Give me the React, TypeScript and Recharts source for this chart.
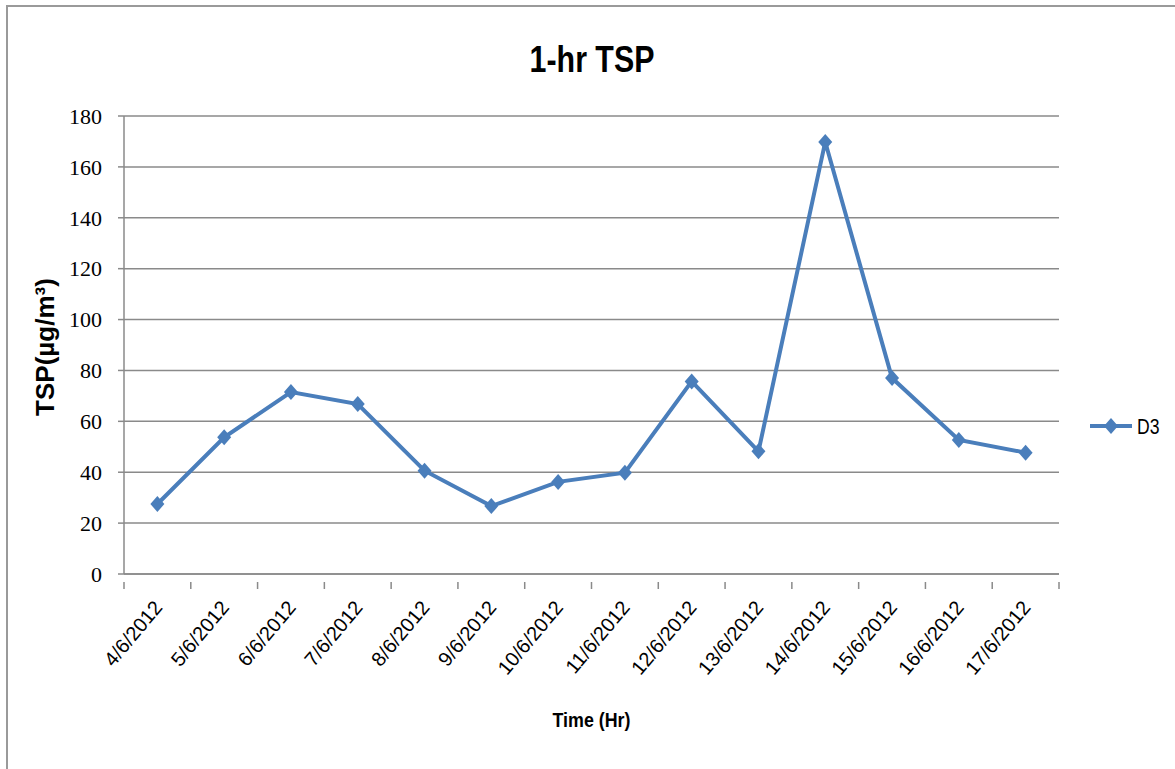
import React from 'react';
import { LineChart, Line, XAxis, YAxis, CartesianGrid, Legend } from 'recharts';

const dates = [
  '4/6/2012', '5/6/2012', '6/6/2012', '7/6/2012', '8/6/2012', '9/6/2012', '10/6/2012',
  '11/6/2012', '12/6/2012', '13/6/2012', '14/6/2012', '15/6/2012', '16/6/2012', '17/6/2012',
];
const d3Values = [27.5, 53.7, 71.5, 66.8, 40.6, 26.7, 36.2, 39.8, 75.7, 48.2, 169.8, 77.0, 52.7, 47.7];
const yTicks = [0, 20, 40, 60, 80, 100, 120, 140, 160, 180];
const seriesName = 'D3';

const data = dates.map((d, i) => ({ date: d, D3: d3Values[i] }));

const BLUE = '#4a7ebb';
const GRID = '#8a8a8a';
const SANS = "'Liberation Sans', Arial, sans-serif";

// diamond marker like the excel one
const Diamond = (props: any) => {
  const { cx, cy } = props;
  if (cx == null || cy == null) return null;
  return <polygon points={`${cx},${cy - 8} ${cx + 7},${cy} ${cx},${cy + 8} ${cx - 7},${cy}`} fill={BLUE} />;
};

// category label + boundary tick marks (excel puts ticks between categories)
const DateTick = (props: any) => {
  const { x, y, payload, index, visibleTicksCount } = props;
  const half = payload && payload.offset ? payload.offset : 33.4;
  const last = index === visibleTicksCount - 1;
  const ax = x + 6;
  const ay = y + 26;
  return (
    <g>
      <line x1={x - half} y1={y} x2={x - half} y2={y + 7} stroke={GRID} strokeWidth={1.5} />
      {last && <line x1={x + half} y1={y} x2={x + half} y2={y + 7} stroke={GRID} strokeWidth={1.5} />}
      <text
        x={ax}
        y={ay}
        textAnchor="end"
        transform={`rotate(-50, ${ax}, ${ay})`}
        fontFamily={SANS}
        fontSize={20}
        fill="#000"
      >
        {payload.value}
      </text>
    </g>
  );
};

const LegendContent = () => (
  <svg width={90} height={32}>
    <line x1={4} y1={15} x2={46} y2={15} stroke={BLUE} strokeWidth={4} />
    <polygon points="25,7 32,15 25,23 18,15" fill={BLUE} />
    <text x={51} y={23} fontFamily={SANS} fontSize={22} fill="#000" transform="translate(51,0) scale(0.8,1) translate(-51,0)">{seriesName}</text>
  </svg>
);

export default function App() {
  return (
    <div style={{ position: 'absolute', left: 0, top: 0, width: 1175, height: 769, background: '#fff' }}>
      <div
        style={{
          position: 'absolute', left: 6, top: 5, width: 1169, height: 764,
          borderLeft: '2px solid #9a9a9a', borderTop: '2px solid #9a9a9a',
        }}
      />
      <div
        style={{
          position: 'absolute', left: 392, top: 41, width: 400, textAlign: 'center',
          fontFamily: SANS, fontWeight: 'bold', fontSize: 37, lineHeight: '37px', color: '#000',
          transform: 'scaleX(0.82)', transformOrigin: '200px 0',
        }}
      >
        1-hr TSP
      </div>
      <div style={{ position: 'absolute', left: 0, top: 0 }}>
        <LineChart width={1175} height={769} data={data} margin={{ top: 116, right: 116, left: 0, bottom: 0 }}>
          <CartesianGrid horizontal vertical={false} stroke={GRID} strokeWidth={1.5} />
          <XAxis
            dataKey="date"
            scale="band"
            height={195}
            interval={0}
            axisLine={{ stroke: GRID, strokeWidth: 1.5 }}
            tickLine={false}
            tick={<DateTick />}
            label={{
              content: (p: any) => {
                const vb = p.viewBox;
                const cx = vb.x + vb.width / 2;
                const cy = vb.y + 153;
                return (
                  <text x={cx} y={cy} textAnchor="middle" fontFamily={SANS} fontWeight="bold" fontSize={21} fill="#000" transform={`translate(${cx},0) scale(0.85,1) translate(${-cx},0)`}>
                    Time (Hr)
                  </text>
                );
              },
            }}
          />
          <YAxis
            width={124}
            domain={[0, 180]}
            ticks={yTicks}
            interval={0}
            axisLine={{ stroke: GRID, strokeWidth: 1.5 }}
            tickLine={{ stroke: GRID, strokeWidth: 1.5 }}
            tickSize={6}
            tickMargin={16}
            tick={{ fontFamily: "'Liberation Serif', serif", fontSize: 22, fill: '#000' }}
            label={{
              content: (p: any) => {
                const vb = p.viewBox;
                const cx = vb.x + 54;
                const cy = vb.y + vb.height / 2 + 2;
                return (
                  <text x={cx} y={cy} textAnchor="middle" transform={`rotate(-90, ${cx}, ${cy})`} fontFamily={SANS} fontWeight="bold" fontSize={26} fill="#000">
                    TSP(µg/m³)
                  </text>
                );
              },
            }}
          />
          <Legend
            layout="vertical"
            align="center"
            verticalAlign="middle"
            content={<LegendContent />}
            wrapperStyle={{ left: 1086, top: 411, width: 90 }}
          />
          <Line
            type="linear"
            dataKey="D3"
            name={seriesName}
            stroke={BLUE}
            strokeWidth={4}
            dot={<Diamond />}
            activeDot={false}
            isAnimationActive={false}
          />
        </LineChart>
      </div>
    </div>
  );
}
